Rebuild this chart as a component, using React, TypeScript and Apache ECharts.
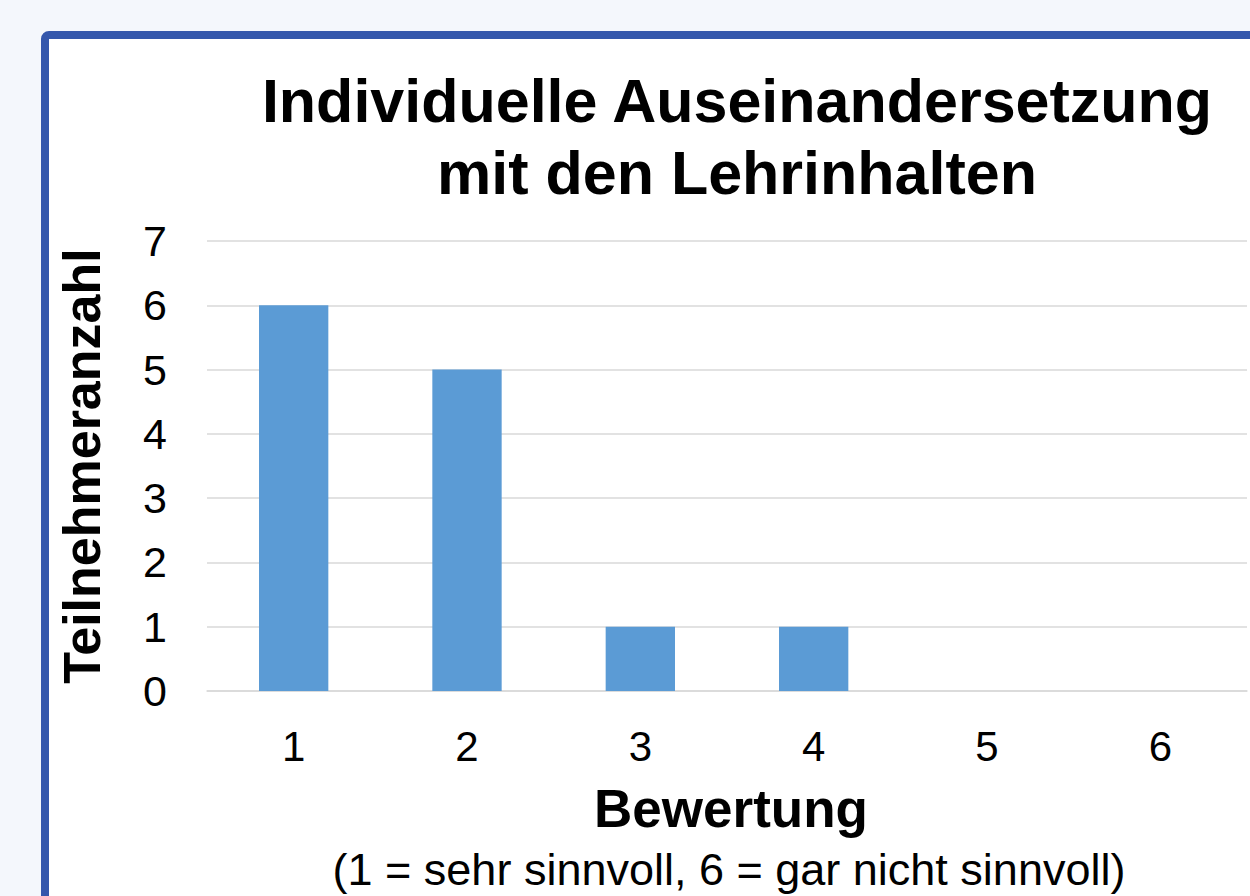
import React, { useEffect, useRef } from "react";
import * as echarts from "echarts";

const categories = ["1", "2", "3", "4", "5", "6"];
const counts = [6, 5, 1, 1, 0, 0];
const titleLines = ["Individuelle Auseinandersetzung", "mit den Lehrinhalten"];
const yAxisName = "Teilnehmeranzahl";
const xAxisName = "Bewertung";
const xAxisNote = "(1 = sehr sinnvoll, 6 = gar nicht sinnvoll)";

const FONT = "'Liberation Sans', Arial, Helvetica, sans-serif";

export default function App() {
  const ref = useRef<HTMLDivElement>(null);
  useEffect(() => {
    if (!ref.current) return;
    const chart = echarts.init(ref.current, undefined, { renderer: "svg" });
    chart.setOption({
      animation: false,
      backgroundColor: "#f4f7fc",
      textStyle: { fontFamily: FONT },
      graphic: [
        {
          type: "rect",
          z: -10,
          silent: true,
          shape: { x: 45, y: 35, width: 1300, height: 1000, r: 4 },
          style: { fill: "#ffffff", stroke: "#3457ac", lineWidth: 8 },
        },
        {
          type: "text",
          silent: true,
          style: {
            text: xAxisName,
            x: 731,
            y: 808,
            font: `bold 53px ${FONT}`,
            fill: "#000",
            textAlign: "center",
            textVerticalAlign: "middle",
            align: "center",
            verticalAlign: "middle",
          },
        },
        {
          type: "text",
          silent: true,
          style: {
            text: xAxisNote,
            x: 729,
            y: 869,
            font: `45px ${FONT}`,
            fill: "#000",
            textAlign: "center",
            textVerticalAlign: "middle",
            align: "center",
            verticalAlign: "middle",
          },
        },
      ],
      title: {
        text: titleLines.join("\n"),
        left: 732,
        top: 60,
        textAlign: "center",
        textStyle: {
          fontFamily: FONT,
          fontSize: 61,
          fontWeight: "bold",
          lineHeight: 72,
          color: "#000",
        },
      },
      grid: { left: 207, right: 3, top: 241, bottom: 205, containLabel: false },
      xAxis: {
        type: "category",
        data: categories,
        axisLine: { lineStyle: { color: "#d9d9d9", width: 1.5 } },
        axisTick: { show: false },
        axisLabel: { color: "#000", fontSize: 42, margin: 34, fontFamily: FONT },
      },
      yAxis: {
        type: "value",
        min: 0,
        max: 7,
        interval: 1,
        name: yAxisName,
        nameLocation: "middle",
        nameRotate: 90,
        nameGap: 99,
        nameTextStyle: { color: "#000", fontSize: 52, fontWeight: "bold", fontFamily: FONT },
        axisLine: { show: false },
        axisTick: { show: false },
        axisLabel: { color: "#000", fontSize: 43, margin: 40, fontFamily: FONT },
        splitLine: { lineStyle: { color: "#d9d9d9", width: 1.5 } },
      },
      series: [
        {
          type: "bar",
          data: counts,
          barWidth: "40%",
          itemStyle: { color: "#5b9bd5" },
        },
      ],
    });
    return () => chart.dispose();
  }, []);
  return (
    <div
      ref={ref}
      style={{ position: "absolute", left: 0, top: 0, width: 1250, height: 896 }}
    />
  );
}
